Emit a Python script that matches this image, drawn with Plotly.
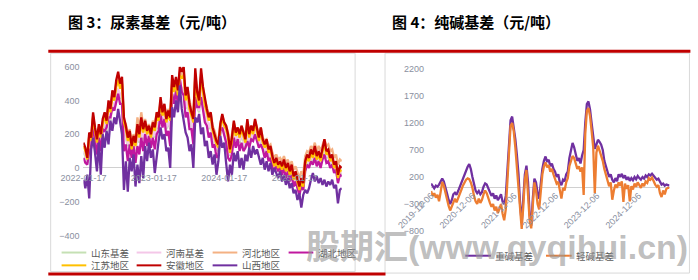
import plotly.graph_objects as go
import pandas as pd

W, H = 698, 280


def px(x):
    return x / W


def py(y):
    return 1 - y / H


# ---------------- Figure 3: urea basis (yuan/ton) ----------------
urea_dates = pd.date_range("2022-01-17", periods=135, freq="10D")
urea_names = ["山东基差", "河南基差", "河北地区", "湖北地区", "江苏地区", "安徽地区", "山西地区"]
urea_colors = ["#c5e0b4", "#f4c7e8", "#f4b183", "#c0189f", "#ffc000", "#c00000", "#7030a0"]
urea_ticks = ["2022-01-17", "2023-01-17", "2024-01-17", "2025-01-17"]

shandong = [90, 70, 30, 150, 130, 250, 180, 120, 200, 150, 230, 260, 220, 320, 280, 380, 340, 420, 460, 410,
            440, 230, 180, 130, 160, 90, 140, 100, 200, 150, 230, 170, 220, 160, 190, 150, 210, 180, 260, 230,
            330, 260, 300, 230, 270, 230, 430, 380, 430, 370, 480, 450, 470, 350, 390, 300, 260, 220, 450, 360,
            330, 460, 380, 320, 280, 230, 260, 180, 150, 110, 100, 200, 250, 210, 190, 150, 70, 130, 210, 160,
            180, 150, 190, 160, 120, 220, 150, 190, 170, 220, 180, 130, 180, 120, 90, 120, 60, 80, 30, -10,
            20, -20, 0, -30, 10, -40, -10, -60, -20, -90, -60, -110, -150, -100, -130, 0, 40, 20, 70, 40,
            90, 30, 60, 20, 80, 120, 60, 70, 20, 40, -20, 0, -80, -30, -40]
henan = [100, 80, 40, 160, 140, 260, 190, 130, 210, 160, 240, 270, 230, 330, 290, 390, 350, 430, 470, 420,
         450, 240, 190, 140, 170, 100, 150, 110, 210, 160, 240, 180, 230, 170, 200, 160, 220, 190, 270, 240,
         340, 270, 310, 240, 280, 240, 440, 390, 440, 380, 490, 460, 480, 360, 400, 310, 270, 230, 460, 370,
         340, 470, 390, 330, 290, 240, 270, 190, 160, 120, 110, 210, 260, 220, 200, 160, 80, 140, 220, 170,
         190, 160, 200, 170, 130, 230, 160, 200, 180, 230, 190, 140, 190, 130, 100, 130, 70, 90, 40, 0,
         30, -10, 10, -20, 20, -30, 0, -50, -10, -80, -50, -100, -140, -90, -120, 10, 50, 30, 80, 50,
         100, 40, 70, 30, 90, 130, 70, 80, 30, 50, -10, 10, -70, -20, -30]
hebei = [130, 110, 70, 190, 190, 310, 230, 160, 240, 200, 270, 320, 290, 380, 360, 440, 420, 500, 540, 490,
         520, 280, 260, 200, 230, 160, 200, 170, 300, 230, 330, 250, 290, 230, 260, 210, 280, 260, 330, 300,
         400, 330, 370, 300, 350, 310, 530, 480, 520, 470, 570, 550, 570, 430, 470, 390, 340, 300, 560, 440,
         400, 560, 470, 400, 360, 310, 330, 250, 220, 180, 160, 270, 310, 270, 250, 210, 130, 190, 270, 220,
         240, 210, 250, 220, 190, 280, 220, 250, 230, 280, 230, 200, 240, 180, 160, 170, 130, 140, 90, 60,
         80, 50, 60, 40, 70, 30, 50, 10, 40, -10, 10, -30, -60, -20, -40, 70, 100, 90, 130, 110,
         150, 100, 130, 100, 140, 170, 130, 140, 100, 110, 60, 80, 20, 50, 40]
hubei = [60, 30, 20, 100, 120, 260, 160, 80, 180, 100, 230, 220, 240, 300, 300, 360, 340, 400, 440, 380,
         380, 100, 140, 40, 140, 60, 130, 30, 130, 80, 180, 100, 200, 130, 190, 120, 180, 110, 200, 220,
         320, 240, 290, 190, 220, 130, 440, 380, 460, 380, 530, 450, 430, 300, 330, 230, 230, 140, 420, 360,
         360, 420, 340, 270, 250, 180, 210, 120, 140, 60, 80, 220, 240, 200, 150, 60, 40, 80, 180, 120,
         170, 100, 150, 100, 120, 160, 120, 170, 160, 200, 150, 120, 140, 110, 60, 100, 40, 60, 0, -10,
         10, -20, 10, -40, 0, -60, -20, -80, -40, -110, -80, -120, -160, -110, -130, -20, 20, 0, 40, 20,
         60, 10, 40, 0, 50, 80, 30, 40, 0, 20, -30, -10, -90, -40, -50]
jiangsu = [130, 100, 50, 190, 160, 300, 220, 150, 240, 180, 260, 310, 260, 370, 330, 420, 400, 480, 520, 470,
           500, 270, 230, 160, 200, 110, 170, 130, 240, 180, 270, 210, 260, 200, 230, 180, 250, 220, 300, 280,
           390, 310, 350, 270, 320, 280, 500, 450, 500, 430, 550, 530, 550, 400, 450, 350, 310, 270, 540, 420,
           370, 540, 450, 370, 330, 280, 310, 220, 180, 140, 120, 240, 300, 250, 230, 180, 90, 160, 260, 190,
           220, 180, 230, 190, 150, 270, 180, 230, 200, 270, 210, 160, 220, 150, 120, 150, 90, 110, 50, 10,
           40, 0, 20, -10, 30, -20, 10, -40, 0, -70, -40, -90, -130, -80, -110, 20, 60, 40, 90, 60,
           110, 50, 80, 40, 100, 150, 80, 90, 40, 60, 0, 20, -60, -10, -20]
anhui = [150, 120, 60, 210, 180, 330, 240, 170, 260, 200, 290, 330, 280, 400, 350, 460, 420, 520, 570, 500,
         540, 300, 250, 180, 220, 130, 190, 150, 260, 200, 300, 230, 280, 220, 250, 200, 270, 240, 330, 300,
         420, 330, 380, 290, 340, 300, 550, 480, 540, 460, 600, 570, 600, 430, 480, 380, 330, 290, 590, 450,
         400, 590, 480, 400, 350, 300, 330, 240, 200, 160, 140, 260, 320, 270, 250, 200, 110, 180, 280, 210,
         240, 200, 250, 210, 170, 290, 200, 250, 220, 290, 230, 180, 240, 170, 140, 170, 110, 130, 70, 30,
         60, 20, 40, 10, 50, 0, 30, -20, 20, -50, -20, -70, -110, -60, -90, 40, 80, 60, 110, 80,
         130, 70, 100, 60, 120, 170, 100, 110, 60, 80, 20, 40, -40, 10, 0]
shanxi = [-70, -120, -40, -180, 110, 180, 90, -20, 150, -40, 200, 120, 220, 140, 280, 220, 300, 260, 350, 280,
          200, -130, 40, -140, 60, -20, 80, -110, 20, -90, 70, -60, 130, 40, 150, 60, 110, -30, 80, 160,
          240, 170, 200, 100, 120, 0, 360, 300, 400, 330, 490, 350, 280, 210, 180, 100, 140, 0, 300, 270,
          320, 200, 240, 130, 160, 60, 100, 20, 80, -40, 40, 190, 120, 150, 30, -80, 20, -40, 90, 40,
          100, 0, 60, -10, 80, 40, 120, 60, 130, 80, 110, 60, 20, 60, -10, 40, -20, 30, -40, 0,
          -30, -60, -20, -80, -40, -100, -60, -120, -90, -150, -130, -190, -150, -235, -160, -130, -150, -120, -70, -30,
          -80, -50, -90, -60, -100, -70, -110, -80, -100, -70, -120, -100, -210, -130, -120]
urea_series = [shandong, henan, hebei, hubei, jiangsu, anhui, shanxi]

# ---------------- Figure 4: soda ash basis (yuan/ton) ----------------
soda_dates = pd.date_range("2019-12-06", periods=151, freq="14D")
soda_names = ["重碱基差", "轻碱基差"]
soda_colors = ["#7030a0", "#ed7d31"]
soda_ticks = ["2019-12-06", "2020-12-06", "2021-12-06", "2022-12-06", "2023-12-06", "2024-12-06"]

heavy = [80, 30, -10, 40, 20, 60, 110, 170, 120, 30, -100, -220, -300, -230, -120, -90, -130, -60, 20, 110,
         180, 250, 330, 390, 440, 350, 200, 60, -50, -100, -60, -120, -80, 20, 80, 60, -20, -80, -150, -100,
         -200, -140, -230, -180, -120, -260, -300, -150, 300, 900, 1250, 1320, 1150, 900, 600, 250, -300, -650, -200, 250,
         410, 100, -500, -700, -200, 170, 100, -100, -200, 100, 350, 500, 580, 480, 520, 400, 450, 350, 300, 200,
         250, 100, 50, 150, 120, 250, 300, 550, 700, 830, 750, 600, 500, 550, 450, 600, 700, 1200, 1550, 1600,
         1450, 1200, 900, 720, 800, 890, 850, 800, 700, 500, 400, 300, 200, 250, 150, 100, 180, 120, 250, 200,
         260, 180, 230, 150, 200, 130, 180, 140, 200, 160, 220, 180, 150, 200, 170, 230, 200, 250, 230, 260,
         220, 180, 150, 170, 120, 60, 80, 40, 60, 50, 40]
light = [-60, -150, -100, -180, -130, -250, -80, 110, 40, -100, -250, -330, -420, -350, -250, -200, -270, -180, -120, -40,
         40, 100, 150, 175, 160, 100, 0, -150, -250, -300, -200, -280, -220, -120, -50, -100, -200, -280, -350, -300,
         -420, -350, -470, -380, -300, -480, -600, -400, 100, 700, 1150, 1200, 1050, 750, 400, 50, -450, -760, -350, 150,
         330, -50, -600, -750, -350, 100, -50, -300, -400, -50, 250, 400, 470, 380, 420, 300, 350, 250, 150, 80,
         110, -50, -200, 0, -50, 100, 180, 400, 520, 590, 550, 420, 350, 400, 300, 380, -130, 1000, 1420, 1480,
         1330, 1050, 750, -100, 650, 780, 700, 600, 500, 350, 250, 150, 30, 100, -220, -50, 60, 0, 100, 40,
         120, -260, 80, -20, 50, -250, 30, -30, 80, 20, 100, 50, 0, 80, 30, 120, 90, 180, 150, 190,
         120, 60, 20, 50, -100, -170, -50, -120, -20, 0, 0]
soda_series = [heavy, light]

FONT = "Noto Sans CJK SC, Noto Sans, sans-serif"
TICK_COLOR = "#8a8fa0"

fig = go.Figure()
for name, color, vals in zip(urea_names, urea_colors, urea_series):
    fig.add_trace(go.Scatter(x=urea_dates, y=vals, mode="lines", name=name,
                             line=dict(color=color, width=2.3), xaxis="x", yaxis="y",
                             showlegend=False, hoverinfo="skip"))
for name, color, vals in zip(soda_names, soda_colors, soda_series):
    fig.add_trace(go.Scatter(x=soda_dates, y=vals, mode="lines", name=name,
                             line=dict(color=color, width=2.3), xaxis="x2", yaxis="y2",
                             showlegend=False, hoverinfo="skip"))

shapes = []
# panel frames
shapes.append(dict(type="rect", xref="paper", yref="paper", x0=px(16.5), x1=px(337), y0=py(276.5), y1=py(50),
                   line=dict(color="#d9d9d9", width=1), layer="below"))
shapes.append(dict(type="rect", xref="paper", yref="paper", x0=px(368.5), x1=px(689), y0=py(278), y1=py(50),
                   line=dict(color="#d9d9d9", width=1), layer="below"))
# red rules
shapes.append(dict(type="line", xref="paper", yref="paper", x0=px(14), x1=px(690), y0=py(48), y1=py(48),
                   line=dict(color="#c00000", width=3)))
shapes.append(dict(type="line", xref="paper", yref="paper", x0=px(14), x1=px(369), y0=py(279), y1=py(279),
                   line=dict(color="#c00000", width=3)))

annotations = []
annotations.append(dict(text="<b>图 3：尿素基差（元/吨）</b>", x=px(33), y=py(17), xref="paper", yref="paper",
                        xanchor="left", yanchor="middle", showarrow=False,
                        font=dict(family=FONT, size=15, color="#000000")))
annotations.append(dict(text="<b>图 4：纯碱基差（元/吨）</b>", x=px(374), y=py(17), xref="paper", yref="paper",
                        xanchor="left", yanchor="middle", showarrow=False,
                        font=dict(family=FONT, size=15, color="#000000")))

# manual legends
urea_leg_pos = [(28, 256.7), (107, 256.7), (187, 256.7), (267, 256.7), (28, 270), (107, 270), (187, 270)]
for (lx, ly), name, color in zip(urea_leg_pos, urea_names, urea_colors):
    shapes.append(dict(type="line", xref="paper", yref="paper", x0=px(lx), x1=px(lx + 26), y0=py(ly), y1=py(ly),
                       line=dict(color=color, width=2)))
    annotations.append(dict(text=name, x=px(lx + 29), y=py(ly), xref="paper", yref="paper",
                            xanchor="left", yanchor="middle", showarrow=False,
                            font=dict(family=FONT, size=9.5, color="#595959")))
soda_leg_pos = [(453, 260), (538, 260)]
for (lx, ly), name, color in zip(soda_leg_pos, soda_names, soda_colors):
    shapes.append(dict(type="line", xref="paper", yref="paper", x0=px(lx), x1=px(lx + 27), y0=py(ly), y1=py(ly),
                       line=dict(color=color, width=2)))
    annotations.append(dict(text=name, x=px(lx + 29), y=py(ly), xref="paper", yref="paper",
                            xanchor="left", yanchor="middle", showarrow=False,
                            font=dict(family=FONT, size=9.5, color="#595959")))

# watermark
annotations.append(dict(text="<b>股期汇(www.qyqihui.cn)</b>", x=px(486), y=py(251), xref="paper", yref="paper",
                        xanchor="center", yanchor="middle", showarrow=False,
                        font=dict(family="Liberation Sans, Noto Sans CJK SC, sans-serif", size=34,
                                  color="rgba(150,150,150,0.62)")))

tickfont = dict(family="Liberation Sans, Arial, sans-serif", size=9, color=TICK_COLOR)

fig.update_layout(
    width=W, height=H, margin=dict(l=0, r=0, t=0, b=0),
    paper_bgcolor="white", plot_bgcolor="rgba(0,0,0,0)",
    showlegend=False,
    xaxis=dict(domain=[px(51), px(323)], range=[urea_dates[0], urea_dates[-1]], anchor="free", position=py(169),
               tickvals=pd.to_datetime(urea_ticks), ticktext=urea_ticks, ticks="", showgrid=False,
               showline=False, zeroline=False, tickfont=tickfont, ticklabelstandoff=3),
    yaxis=dict(domain=[py(239), py(64)], range=[-400, 600], dtick=200, anchor="free", position=px(51),
               ticks="", showgrid=False, showline=False, zeroline=True, zerolinecolor="#d0d0d0",
               zerolinewidth=1, tickfont=tickfont, ticklabelstandoff=4),
    xaxis2=dict(domain=[px(417), px(668)], range=[soda_dates[0], soda_dates[-1]], anchor="free",
                position=py(189.6), tickvals=pd.to_datetime(soda_ticks), ticktext=soda_ticks, tickangle=-45,
                ticks="", showgrid=False, showline=False, zeroline=False, tickfont=tickfont),
    yaxis2=dict(domain=[py(234.4), py(66.4)], range=[-800, 2200],
                tickvals=[-800, -300, 200, 700, 1200, 1700, 2200], anchor="free", position=px(417),
                ticks="", showgrid=False, showline=False, zeroline=True, zerolinecolor="#d0d0d0",
                zerolinewidth=1, tickfont=tickfont, ticklabelstandoff=7),
    shapes=shapes,
    annotations=annotations,
)

fig.write_html("out.html")
